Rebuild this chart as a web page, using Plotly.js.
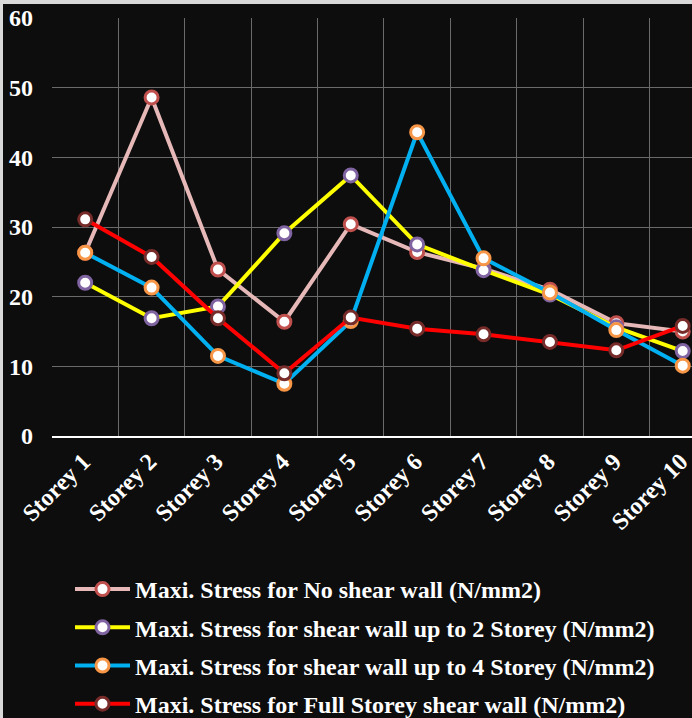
<!DOCTYPE html>
<html>
<head>
<meta charset="utf-8">
<script src="https://cdn.plot.ly/plotly-3.0.1.min.js"></script>
<style>
  html, body { margin: 0; padding: 0; background: #d9d9d9; }
  #chart { position: absolute; left: 3px; top: 4px; width: 689px; height: 714px; }
</style>
</head>
<body>
<div id="chart"></div>
<script>
const categories = ["Storey 1","Storey 2","Storey 3","Storey 4","Storey 5","Storey 6","Storey 7","Storey 8","Storey 9","Storey 10"];
const noShearWall   = [26.3, 48.6, 23.9, 16.4, 30.4, 26.4, 24.0, 21.0, 16.2, 15.0];
const shearWallUpTo2 = [22.0, 16.9, 18.6, 29.1, 37.4, 27.5, 23.8, 20.3, 15.6, 12.2];
const shearWallUpTo4 = [26.3, 21.3, 11.5, 7.5, 16.5, 43.6, 25.5, 20.6, 15.2, 10.1];
const fullStorey     = [31.1, 25.7, 16.9, 9.0, 17.0, 15.4, 14.6, 13.5, 12.3, 15.8];
const seriesNames = [
  "Maxi. Stress for No shear wall (N/mm2)",
  "Maxi. Stress for shear wall up to 2 Storey (N/mm2)",
  "Maxi. Stress for shear wall up to 4 Storey (N/mm2)",
  "Maxi. Stress for Full Storey shear wall (N/mm2)"
];
const yTicks = [0, 10, 20, 30, 40, 50, 60];

const lineColors = ["#e6b9b8", "#ffff00", "#00b0f0", "#ff0000"];
const markerColors = ["#c0504d", "#8064a2", "#f79646", "#772c2a"];
const values = [noShearWall, shearWallUpTo2, shearWallUpTo4, fullStorey];

const font = {family: "Liberation Serif, 'Times New Roman', serif", color: "#ffffff", weight: "bold"};

const traces = values.map((v, i) => ({
  type: "scatter",
  mode: "lines+markers",
  x: categories,
  y: v,
  name: seriesNames[i],
  legendgroup: "g" + i,
  line: {color: lineColors[i], width: 4},
  marker: {size: 13, color: "#ffffff", line: {color: markerColors[i], width: 3}}
}));

const layout = {
  width: 689,
  height: 714,
  paper_bgcolor: "#0d0d0d",
  plot_bgcolor: "#0d0d0d",
  margin: {l: 49, r: 0, t: 14, b: 282, pad: 0, autoexpand: false},
  showlegend: true,
  font: font,
  xaxis: {
    type: "category",
    range: [-0.5, 9.14],
    tickson: "boundaries",
    showgrid: true,
    gridcolor: "#6a6a6a",
    gridwidth: 1,
    showline: true,
    linecolor: "#ffffff",
    linewidth: 2,
    ticks: "",
    tickangle: -45,
    ticklabelshift: -2,
    tickfont: Object.assign({}, font, {size: 24}),
    zeroline: false,
    automargin: false
  },
  yaxis: {
    range: [0, 60],
    tickvals: yTicks,
    ticktext: yTicks.map(String),
    showgrid: true,
    gridcolor: "#6a6a6a",
    gridwidth: 1,
    zeroline: false,
    showline: false,
    ticks: "",
    ticklabelstandoff: 18,
    tickfont: Object.assign({}, font, {size: 24}),
    automargin: false
  },
  legend: {
    xref: "container",
    yref: "container",
    x: 67 / 689,
    y: 1 - 563 / 714,
    xanchor: "left",
    yanchor: "top",
    orientation: "v",
    traceorder: "grouped",
    tracegroupgap: 4,
    bgcolor: "rgba(0,0,0,0)",
    font: Object.assign({}, font, {size: 24}),
    itemwidth: 55
  }
};

Plotly.newPlot("chart", traces, layout, {displayModeBar: false, staticPlot: true});
</script>
</body>
</html>
